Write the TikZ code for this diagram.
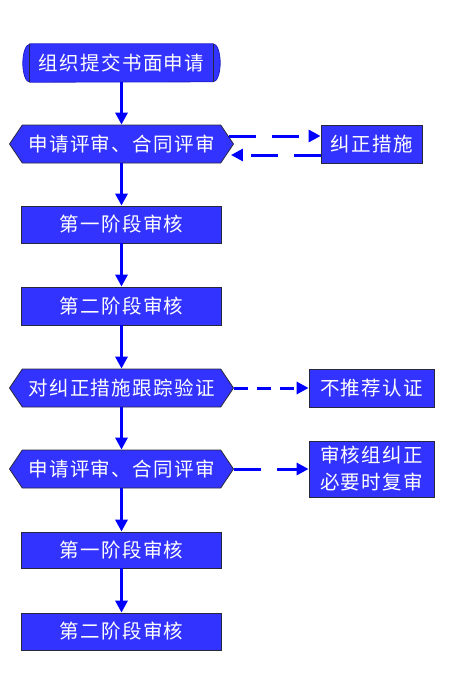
\documentclass[tikz,border=0pt]{standalone}
\usepackage{fontspec}
\setmainfont{Noto Sans CJK SC}[LetterSpace=7]
\usetikzlibrary{arrows.meta,shapes.symbols,backgrounds}
\definecolor{boxblue}{RGB}{51,51,255}
\definecolor{arrowblue}{RGB}{0,0,255}
\definecolor{edgecol}{RGB}{40,40,60}
\definecolor{capline}{RGB}{30,30,200}
\tikzset{
  lbl/.style={text=white,font=\fontsize{19.5}{27}\selectfont,inner sep=0pt,align=center},
  rbox/.style={lbl,rectangle,draw=edgecol,fill=boxblue,line width=0.8pt},
  hexbox/.style={lbl,signal,signal to=west and east,signal pointer angle=112,draw=edgecol,fill=boxblue,line width=0.8pt,minimum width=224pt,minimum height=38pt},
  flow/.style={draw=arrowblue,line width=3pt,-{Triangle[length=12pt,width=12pt]}},
  dflow/.style={flow,dash pattern=on 27pt off 16pt},
  sflow/.style={flow,dash pattern=on 14pt off 9pt},
}
\begin{document}
\begin{tikzpicture}[x=1pt,y=1pt]
\useasboundingbox (0,0) rectangle (467,-677);
% main column
\node[lbl,minimum width=183pt,minimum height=38pt] (n1) at (121.5,-63) {组织提交书面申请};
\begin{scope}[on background layer]
\fill[boxblue,draw=capline,line width=0.8pt] (n1.north west) -- (n1.north east)
  arc[start angle=90,end angle=-90,x radius=7,y radius=19] -- (n1.south west)
  arc[start angle=270,end angle=90,x radius=7,y radius=19] -- cycle;
\draw[edgecol,line width=0.8pt] (n1.north west) -- (n1.south west);
\draw[edgecol,line width=0.8pt] (n1.north east) -- (n1.south east);
\end{scope}
\node[hexbox] (h1) at (121.5,-144) {申请评审、合同评审};
\node[rbox,minimum width=101pt,minimum height=38pt] (c1) at (371.5,-144) {纠正措施};
\node[rbox,minimum width=200pt,minimum height=37pt] (b1) at (121.5,-224.5) {第一阶段审核};
\node[rbox,minimum width=200pt,minimum height=38pt] (b2) at (121.5,-306) {第二阶段审核};
\node[hexbox] (h2) at (121.5,-388) {对纠正措施跟踪验证};
\node[rbox,minimum width=125pt,minimum height=38pt] (r2) at (371.5,-388) {不推荐认证};
\node[hexbox] (h3) at (121.5,-469) {申请评审、合同评审};
\node[rbox,minimum width=125pt,minimum height=56pt] (r3) at (371.5,-469) {审核组纠正\\必要时复审};
\node[rbox,minimum width=200pt,minimum height=36pt] (b3) at (121.5,-550) {第一阶段审核};
\node[rbox,minimum width=200pt,minimum height=37pt] (b4) at (121.5,-631.5) {第二阶段审核};
% vertical arrows
\draw[flow] (n1.south) -- (h1.north);
\draw[flow] (h1.south) -- (b1.north);
\draw[flow] (b1.south) -- (b2.north);
\draw[flow] (b2.south) -- (h2.north);
\draw[flow] (h2.south) -- (h3.north);
\draw[flow] (h3.south) -- (b3.north);
\draw[flow] (b3.south) -- (b4.north);
% side arrows
\draw[dflow] ([xshift=-5pt,yshift=8pt]h1.east) -- ([yshift=8pt]c1.west);
\draw[dflow] ([yshift=-11pt]c1.west) -- ([xshift=-3pt,yshift=-11pt]h1.east);
\draw[sflow] (h2.east) -- (r2.west);
\draw[dflow] (h3.east) -- (r3.west);
\end{tikzpicture}
\end{document}
